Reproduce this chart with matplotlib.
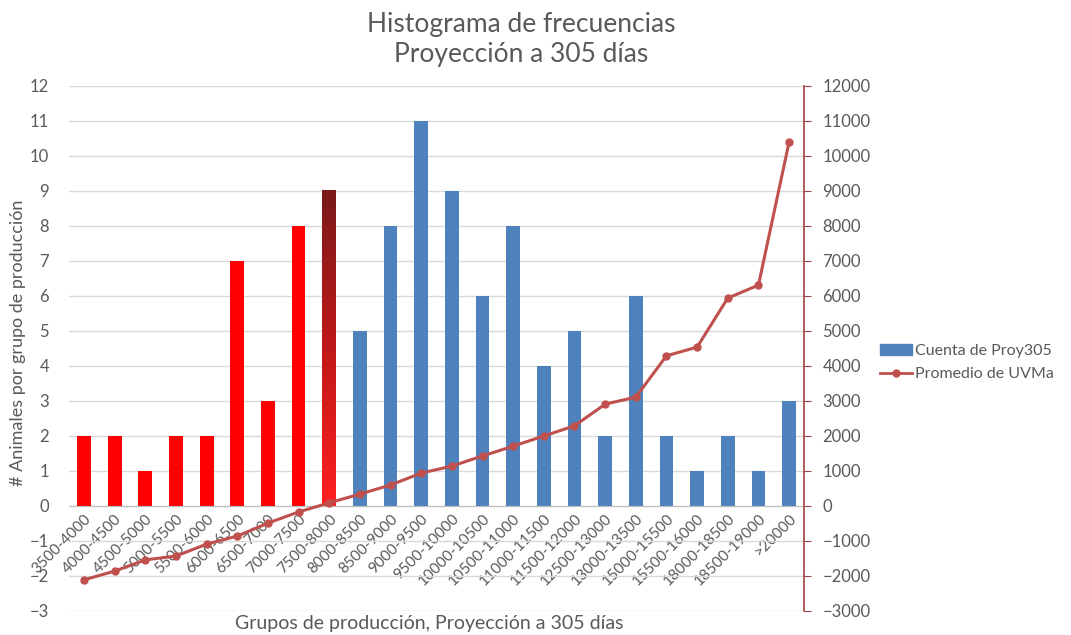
import numpy as np
import matplotlib
matplotlib.use('Agg')
import matplotlib.pyplot as plt
from matplotlib.colors import LinearSegmentedColormap
from matplotlib.patches import Patch
from matplotlib.lines import Line2D

plt.rcParams['font.family'] = ['Lato', 'DejaVu Sans']

# Data
grupos = ['3500-4000', '4000-4500', '4500-5000', '5000-5500', '5500-6000',
          '6000-6500', '6500-7000', '7000-7500', '7500-8000', '8000-8500',
          '8500-9000', '9000-9500', '9500-10000', '10000-10500', '10500-11000',
          '11000-11500', '11500-12000', '12500-13000', '13000-13500',
          '15000-15500', '15500-16000', '18000-18500', '18500-19000', '>20000']
cuenta = [2, 2, 1, 2, 2, 7, 3, 8, 9, 5, 8, 11, 9, 6, 8, 4, 5, 2, 6, 2, 1, 2, 1, 3]
promedio_uvma = [-2110, -1860, -1540, -1430, -1090, -860, -490, -170, 90, 340,
                 600, 940, 1140, 1430, 1710, 2000, 2290, 2910, 3110, 4290,
                 4540, 5940, 6310, 10400]
n_rojas = 8      # first groups drawn in red
idx_degradado = 8  # bar drawn with a dark-red gradient

gris = '#595959'
azul = '#4F81BD'
rojo_linea = '#C0504D'

fig = plt.figure(figsize=(10.71, 6.35), dpi=100)
ax = fig.add_axes([0.0641, 0.0378, 0.687, 0.8268])

x = np.arange(len(grupos))
colores = ['#FF0000'] * n_rojas + [azul] * (len(grupos) - n_rojas)
bars = ax.bar(x, cuenta, width=0.45, color=colores, zorder=2)

# gradient bar
b = bars[idx_degradado]
b.set_facecolor('none')
cmap = LinearSegmentedColormap.from_list('rojo', ['#FF2020', '#C01818', '#7A1A1A'])
grad = np.linspace(0, 1, 256).reshape(-1, 1)
ax.imshow(grad, cmap=cmap, aspect='auto', origin='lower', zorder=2,
          extent=(b.get_x(), b.get_x() + b.get_width(), 0, b.get_height()))

ax.set_xlim(-0.5, len(grupos) - 0.5)
ax.set_ylim(-3, 12)
ax.set_yticks(range(-3, 13))
ax.grid(axis='y', color='#D9D9D9', linewidth=1, zorder=0)
ax.set_axisbelow(True)

for s in ['top', 'left', 'right']:
    ax.spines[s].set_visible(False)
ax.spines['bottom'].set_position(('data', 0))
ax.spines['bottom'].set_color('#BFBFBF')
ax.set_xticks(x)
ax.set_xticklabels(grupos, rotation=45, ha='right', rotation_mode='anchor',
                   fontsize=11, color=gris)
ax.tick_params(axis='x', length=0, pad=4)
ax.tick_params(axis='y', length=0, labelsize=12, labelcolor=gris, pad=14)

ax2 = ax.twinx()
ax2.plot(x, promedio_uvma, color=rojo_linea, linewidth=2.2, marker='o',
         markersize=5, zorder=3)
ax2.set_ylim(-3000, 12000)
ax2.set_yticks(range(-3000, 12001, 1000))
for s in ['top', 'left', 'bottom']:
    ax2.spines[s].set_visible(False)
ax2.spines['right'].set_color('#A0403D')
ax2.spines['right'].set_linewidth(1.2)
ax2.tick_params(axis='y', direction='out', length=5, color='#A0403D',
                labelsize=12, labelcolor=gris, pad=8)

fig.text(0.487, 0.962, 'Histograma de frecuencias', ha='center', va='center',
         fontsize=19, color=gris)
fig.text(0.487, 0.914, 'Proyección a 305 días', ha='center', va='center',
         fontsize=19, color=gris)
fig.text(0.401, 0.018, 'Grupos de producción, Proyección a 305 días',
         ha='center', va='center', fontsize=14, color=gris)
fig.text(0.017, 0.46, '# Animales por grupo de producción', rotation=90,
         ha='center', va='center', fontsize=13, color=gris)

handles = [Patch(color=azul),
           Line2D([], [], color=rojo_linea, linewidth=2, marker='o', markersize=5)]
fig.legend(handles, ['Cuenta de Proy305', 'Promedio de UVMa'],
           loc='center left', bbox_to_anchor=(0.808, 0.429), frameon=False,
           fontsize=11.5, labelcolor=gris, handlelength=2.0, handletextpad=0.2,
           labelspacing=0.55)

fig.savefig('out.png', dpi=100)
